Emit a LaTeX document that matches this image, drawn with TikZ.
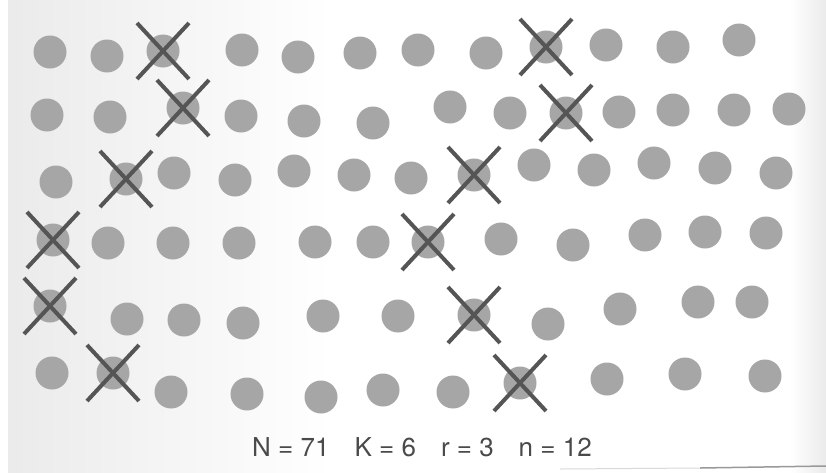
\documentclass[tikz,border=0pt]{standalone}
\usepackage{fontspec}
\setmainfont{TeX Gyre Heros}
\usetikzlibrary{shapes.misc}
\definecolor{dotgray}{HTML}{A6A6A6}
\definecolor{xgray}{HTML}{555555}
\definecolor{txtgray}{HTML}{4A4A4A}
\begin{document}
\begin{tikzpicture}[x=1pt,y=-1pt,
  dot/.style={circle,fill=dotgray,minimum size=33pt,inner sep=0pt},
  xmark/.style={cross out,draw=xgray,line width=4pt,minimum width=48pt,minimum height=52pt,inner sep=0pt},
  lbl/.style={text=txtgray,font=\fontsize{26}{30}\selectfont,inner sep=0pt}]
\useasboundingbox (0,0) rectangle (826,472);
\fill[white] (0,0) rectangle (826,472);
\shade[left color=black!8,right color=white] (8,0) rectangle (330,472);
\shade[left color=white,right color=black!8] (790,0) rectangle (826,472);
\draw[black!15,line width=1pt] (560,469) -- (700,468);
\draw[black!40,line width=1.5pt] (700,468) -- (826,466);
% dots: x/y/crossed
\foreach \px/\py/\c [count=\i] in {
  50/52/0,107/56/0,163/51/1,242/50/0,298/57/0,360/53/0,418/50/0,486/53/0,546/47/1,606/45/0,673/47/0,739/40/0,
  47/115/0,110/117/0,183/108/1,241/116/0,304/121/0,373/123/0,450/107/0,510/113/0,566/113/1,619/112/0,673/110/0,734/110/0,789/109/0,
  56/182/0,126/179/1,174/173/0,235/180/0,294/171/0,354/175/0,411/178/0,474/175/1,534/165/0,594/170/0,654/163/0,715/168/0,776/173/0,
  53/240/1,108/243/0,173/243/0,239/243/0,315/242/0,373/242/0,428/242/1,501/239/0,573/245/0,645/235/0,705/232/0,766/233/0,
  50/306/1,127/319/0,184/320/0,243/323/0,323/316/0,398/316/0,474/315/1,548/324/0,620/309/0,698/302/0,752/302/0,
  52/373/0,113/373/1,171/392/0,247/394/0,321/397/0,383/390/0,453/392/0,520/383/1,607/379/0,685/374/0,765/376/0}
{
  \node[dot] (d\i) at (\px,\py) {};
  \ifnum\c=1 \node[xmark] (x\i) at (d\i) {};\fi
}
\node[lbl] (caption) at (422,447) {N = 71\hspace{25pt}K = 6\hspace{25pt}r = 3\hspace{25pt}n = 12};
\end{tikzpicture}
\end{document}
